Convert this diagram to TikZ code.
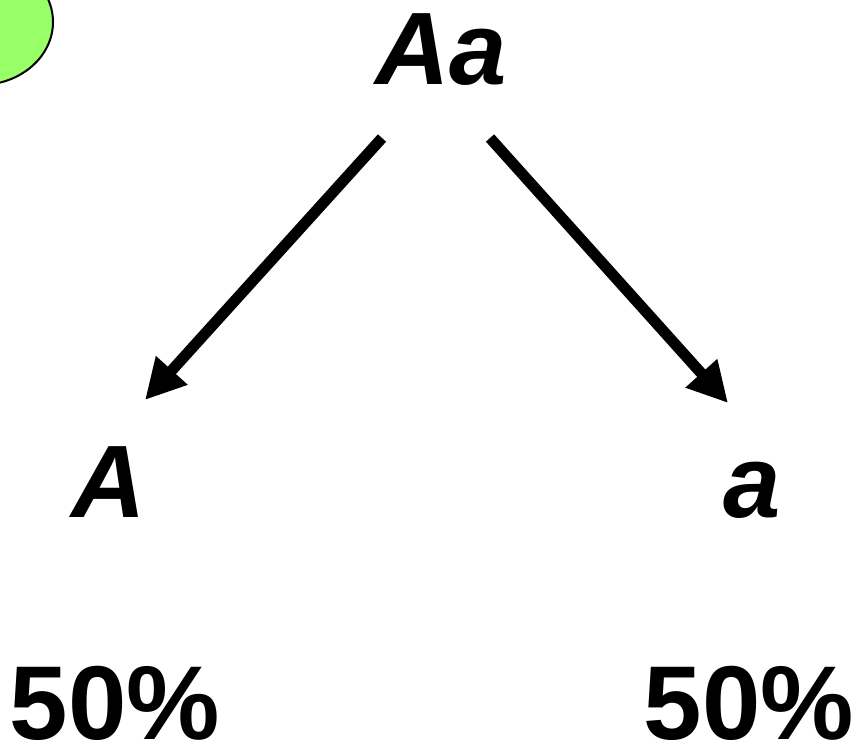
\documentclass[tikz,border=0pt]{standalone}
\usepackage{fontspec}
\setmainfont{Liberation Sans}
\usetikzlibrary{arrows.meta}
\definecolor{leafgreen}{RGB}{153,255,102}

\begin{document}
\begin{tikzpicture}[x=1pt, y=-1pt, line cap=butt, line join=miter,
		allele/.style={anchor=base, inner sep=0pt, font=\fontsize{103}{110}\selectfont\bfseries\itshape},
		share/.style={anchor=base, inner sep=0pt, text depth=0pt, font=\fontsize{105}{112}\selectfont\bfseries},
		gamete/.style={line width=11pt, -{Triangle[length=40pt,width=40pt]}}]
		
		% Frame of the picture
		\useasboundingbox (0,0) rectangle (865,748);
		
		% Green blob in the corner
		\draw[line width=2pt, fill=leafgreen] (-20,22) ellipse [x radius=73, y radius=63];
		
		% Parent and gametes
		\node[allele] (Aa) at (441,84) {Aa};
		\node[allele] (A) at (109,517) {A};
		\node[allele] (a) at (752,517) {a};
		
		% Shares of the gametes
		\node[share] (pA) at (115,739) {50\%};
		\node[share] (pa) at (749,739) {50\%};
		
		% Ends of the arrows
		\coordinate (Aa-l) at ([shift={(-59,54)}]Aa.base);
		\coordinate (Aa-r) at ([shift={(49,54)}]Aa.base);
		\coordinate (A-t) at ([shift={(36,-117)}]A.base);
		\coordinate (a-t) at ([shift={(-24,-114)}]a.base);
		
		\draw[gamete] (Aa-l) -- (A-t);
		\draw[gamete] (Aa-r) -- (a-t);
		
	\end{tikzpicture}
\end{document}
